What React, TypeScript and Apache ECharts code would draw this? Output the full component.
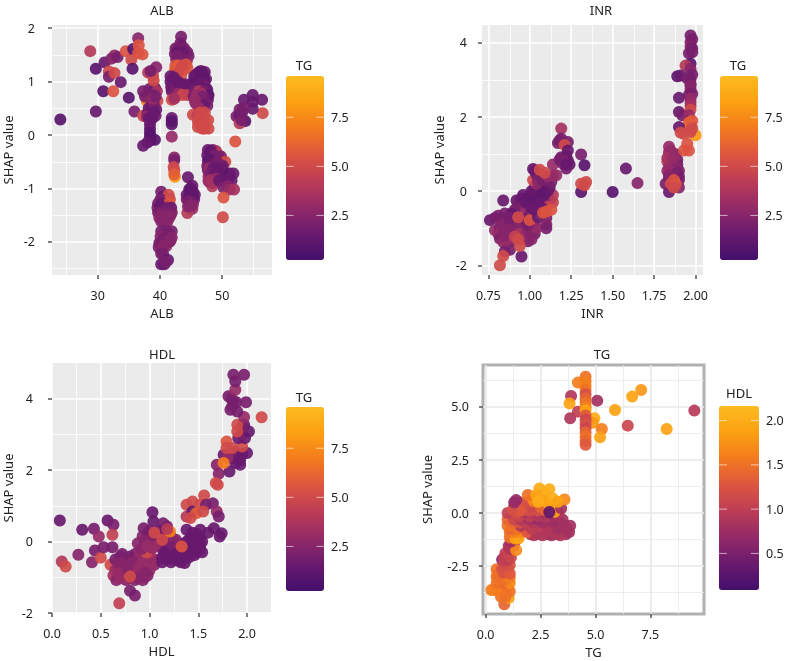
import React, { useEffect, useRef } from "react";
import * as echarts from "echarts";

const palette = ["#420f6c", "#6a1a6e", "#932a68", "#bc3c56", "#dd5540", "#f37a1e", "#fca012", "#fdbb20"];

const albPoints = [
  [24.0,0.29,1.0],[28.8,1.57,4.0],[29.7,1.24,1.0],[29.7,0.44,1.5],[30.9,0.82,1.0],[32.5,0.82,5.5],[31.1,1.36,1.5],[31.8,1.19,5],[31.8,1.09,2],[32.7,1.16,5],[32.7,1.49,3],[32.2,1.43,2.5],[33.2,1.46,2],[33.7,0.99,1.5],[34.5,1.57,5.5],[35.0,0.70,1],[35.4,1.41,5],[35.6,1.24,1],[35.9,0.44,2],[35.7,1.61,1],[36.5,1.81,2.5],[36.6,1.68,5.5],[36.5,1.53,5.5],[37.2,1.51,5.5],
  [37.9,0.64,7],[38.2,0.62,7.5],[37.3,0.82,2],[37.6,0.72,2],[38.3,0.86,2],[39.2,0.88,1.5],[39.5,0.82,3.5],[38.8,0.75,2],[37.3,0.36,5],[39.6,0.64,5],[38.2,0.5,1.5],[38.9,0.5,1.5],[39.4,0.48,1.5],[38.0,0.4,1.5],[38.6,0.38,1],[39.3,0.36,2],[38.4,0.45,2],[38.8,0.42,1.5],[37.9,0.34,3],
  [38.6,0.55,1.5],[39,0.6,2],[38.9,0.68,3],[39.3,0.72,2],[39.1,0.42,1.5],[38.2,0.32,1.5],[38.8,0.32,1.5],
  [38.4,0.2,1.5],[38.4,0.12,1.5],[38.4,0.04,1],[38.4,-0.03,1],[38.5,-0.1,1],[39.2,-0.09,1],[38.0,-0.14,1.5],[37.3,-0.2,1.5],[38.1,1.17,4],[39.4,1.27,2.5],[38.9,1.11,4.5],[39.0,1.02,5],[38.5,1.2,2],
  [42.4,1.22,6.5],[43.4,1.84,2],[43.3,1.72,2],[43.5,1.66,1.5],[42.5,1.62,2],[43.0,1.62,2],[43.9,1.62,2],[44.4,1.55,2],[42.4,1.52,2],[43.2,1.5,1.5],[44.0,1.5,2.5],[44.6,1.48,2],[42.6,1.42,2.5],[43.5,1.4,2.5],[44.3,1.38,3],[42.8,1.55,1.5],[43.6,1.55,1.5],[43.2,1.42,2],[44,1.42,2],[42.8,1.48,2],[42.5,1.3,5.5],[43.0,1.3,6],[44.2,1.32,5.5],[43.1,1.22,5.5],[43.8,1.22,5.5],[44.4,1.26,5.5],[43.4,1.12,5.5],[42.8,1.15,5],[43.6,1.3,5],
  [41.7,1.1,1.5],[42.2,1.08,1.5],[41.7,1.0,1.5],[42.3,0.98,1.5],[41.8,0.9,1.5],[42.3,0.9,2],[42.9,0.92,1.5],[43.4,0.92,1.5],[44.2,0.92,2],[44.6,0.9,1.5],[41.9,0.82,1.5],[42.6,0.85,2],[43.4,0.85,2],[44.3,0.82,1.5],[42.6,1.02,1.5],[43.1,0.98,1.5],[43.8,0.92,1.5],[43.9,0.82,2],[43.1,0.86,1.5],[42.2,0.78,2],[44.1,0.95,1.5],[41.9,0.66,5],[42.5,0.72,2.5],[43.0,0.78,3],[43.6,0.75,5],[44.4,0.75,4.5],[42.3,0.68,3.5],
  [41.9,0.32,1.5],[41.9,0.26,1],[41.9,0.2,1],[41.9,-0.03,3],[42.4,-0.78,8],[42.3,-0.42,2.5],[42.3,-0.47,2],[42.2,-0.6,5],[42.3,-0.66,5],[42.3,-0.74,6],
  [45.5,1.1,1.5],[46,1.15,1.5],[46.6,1.2,1.5],[47.2,1.18,1.5],[45.4,1.0,1.5],[46,1.05,1.5],[46.8,1.08,1.5],[47.4,1.05,1.5],[45.8,1.12,1.5],[46.3,1.18,1.2],[46.9,1.15,1.2],[45.7,0.98,1.2],[46.4,1.0,1.2],[47.1,1.02,1.2],[45.5,0.9,1.5],[46.2,0.95,1.5],[47,0.95,1.5],[47.3,0.9,2],[45.8,0.88,1.5],[46.6,0.88,1.5],[47.6,0.85,1.2],[45.6,0.82,2],[46.3,0.82,4],[47.2,0.82,2],[47.8,0.75,1],[47.7,0.72,1.2],[45.4,0.72,2],[46.0,0.7,5],[46.6,0.66,3],[47.3,0.7,2],[47.7,0.66,1.5],[45.7,0.6,2.5],[46.3,0.6,3],[47.2,0.6,2],[47.6,0.55,2],[46.6,0.78,3.5],[45.9,0.75,3],[46.9,0.72,2],[47,0.55,1.5],[46.2,0.52,3],[45.6,0.65,3],
  [47.4,0.22,9.6],[46.4,0.42,5],[47.2,0.42,5],[45.3,0.38,5],[46.0,0.36,4.5],[47.1,0.32,5],[46.1,0.25,5],[46.7,0.2,5.5],[47.75,0.28,5],[46.1,0.15,5],[46.8,0.12,5],[47.8,0.12,5],[46.6,0.32,5],[46.5,0.4,5],[47.0,0.2,5],[47.2,0.12,5],
  [47.7,-0.28,1.5],[48.5,-0.28,2],[49,-0.3,3.5],[47.6,-0.38,1.5],[48.2,-0.38,1.5],[49.3,-0.36,4.5],[49.8,-0.4,2],[47.7,-0.48,1.5],[48.3,-0.46,1.5],[49,-0.46,2],[49.7,-0.48,2],[50.5,-0.5,5],[47.6,-0.58,2],[48.2,-0.56,5],[48.9,-0.58,2],[49.5,-0.56,1.5],[50.1,-0.58,1.5],[47.7,-0.66,2],[48.4,-0.68,1.5],[49,-0.68,1.5],[49.7,-0.68,2.5],[50.4,-0.7,5],[47.8,-0.78,3],[48.5,-0.78,2],[49.4,-0.76,1.5],[50,-0.78,1.5],[48,-0.88,3],[48.7,-0.86,3],[48.4,-0.96,4],[47.8,-0.86,3],
  [48.2,-0.3,1.2],[48.8,-0.38,2],[47.9,-0.45,1.2],[48.6,-0.52,1.5],[49.3,-0.52,2],[48,-0.62,3],[48.6,-0.62,1.5],[49.3,-0.62,1.5],[50,-0.65,1.5],[48.1,-0.72,2],[48.8,-0.72,1.5],[49.4,-0.7,1.5],[48.2,-0.84,3.5],[49,-0.82,3],[48.5,-0.9,3.5],[49.5,-0.85,1.5],
  [51.2,-0.72,1],[51.8,-0.72,1.5],[51,-0.82,1.5],[51.5,-0.85,1.5],[50.2,-0.98,2],[50.9,-0.96,2.5],[51.2,-1.02,3],[51.9,-1.02,3.5],[50.2,-1.17,5.5],[50.1,-1.54,5],[52.1,-0.12,5.5],
  [54.9,0.75,1.5],[56.4,0.66,1.5],[56.5,0.41,5],[54.9,0.49,1.5],[54.9,0.62,1.5],[53.5,0.66,1.5],[53.4,0.5,2],[52.8,0.48,2],[52.3,0.35,2],[52.8,0.36,1.5],[53.2,0.42,2],[53.7,0.26,1],[52.8,0.22,4],[53.1,0.28,2],
  [44.5,-0.79,1.5],[45.2,-0.95,1.5],[44.7,-1.02,1.5],[45.3,-1.05,1.5],[44.3,-1.12,1.5],[45,-1.12,1],[45.6,-1.12,1.5],[44.3,-1.2,2],[45,-1.2,1.5],[45.5,-1.2,2],[44.7,-1.28,2.5],[45.3,-1.3,3],[44.8,-1.36,3],[45.2,-1.38,3],[44.4,-1.46,4],[44.9,-1.0,1.2],[44.9,-1.08,1.2],[44.7,-1.16,1.2],[45.3,-1.16,1.2],[44.6,-1.24,2],[45.1,-1.26,2],[44.5,-1.34,2.5],[45,-1.32,2.5],
  [40.2,-1.06,2],[40.5,-1.15,1.5],[41.4,-1.12,5],[40.1,-1.2,2],[41.6,-1.2,5],[39.7,-1.28,2],[40.5,-1.28,1.5],[41.5,-1.27,5.5],[39.6,-1.36,2],[40.2,-1.36,2],[41,-1.36,2.5],[41.8,-1.36,1.5],[40.0,-1.32,1.5],[39.7,-1.45,2],[40.4,-1.45,2.5],[41.1,-1.45,3],[41.9,-1.45,2],[40.8,-1.42,2],[41.4,-1.42,2],[39.9,-1.55,2.5],[40.6,-1.55,3],[41.5,-1.55,3],[40.2,-1.5,2.5],[41,-1.5,2.5],[41.7,-1.5,2.5],[40.2,-1.62,2.5],[41.2,-1.62,2.5],[40.7,-1.62,2.5],[40.2,-1.8,2],[41,-1.8,2],[41.9,-1.8,2],[40.6,-1.85,2],[41.5,-1.85,2],[40.1,-1.9,2.5],[41.1,-1.93,2],[41.9,-1.92,2.5],[40.6,-1.95,2],[39.9,-2.02,2],[40.8,-2,4],[41.5,-2,2],[40.3,-2.0,2],[41.2,-2.0,2],[39.8,-2.1,2],[40.3,-2.14,2.5],[41,-2.08,2.5],[40.5,-2.08,2.5],[41.7,-1.98,2.5],[40.5,-2.22,2],[40.2,-2.22,2],[40.2,-2.42,1.5],[40.7,-2.42,1.5],[41.3,-2.34,1.5],[40.9,-2.38,2],
];

const inrPoints = [
  [0.76,-0.78,1.5],[0.84,-0.25,1.5],[0.81,-0.66,2],[0.85,-0.6,2],[0.79,-0.72,2],[0.83,-0.74,2],[0.92,-0.25,1.5],[0.93,-0.35,2],[0.96,-0.1,1.5],[0.99,-0.2,1.5],[0.95,-0.5,3],[0.91,-0.5,2],[0.98,-0.4,3],[0.9,-0.75,1.5],[0.89,-0.6,1.5],[0.87,-0.7,2],[0.97,-0.3,1.5],[0.95,-0.2,1.5],
  [0.79,-1.05,3],[0.82,-1,2],[0.87,-0.95,2],[0.92,-0.95,2],[0.97,-0.95,2.5],[1.03,-0.9,2.5],[0.81,-1.15,3],[0.85,-1.1,2],[0.9,-1.1,2.5],[0.96,-1.1,3],[1.02,-1.05,2.5],[0.82,-1.28,2],[0.86,-1.25,2.5],[0.97,-1.2,2.5],[1.0,-1.22,2],[1.03,-1.15,2],[0.84,-1.37,3],[0.89,-1.35,2.5],[0.99,-1.35,2],[0.85,-1.62,2],[0.88,-1.58,2],[0.95,-1.76,1.5],
  [0.83,-0.9,2.5],[0.88,-0.85,2],[0.94,-0.85,2.5],[1,-0.65,2],[0.97,-0.75,2],[0.89,-1.22,2.5],[0.86,-1.33,3],[0.94,-1.15,3.5],[0.99,-1.05,2.5],[1.02,-0.95,2.5],[0.84,-1.2,2.5],[0.95,-1.3,3],[1.01,-1.3,2.5],[1.04,-1.0,3],[0.87,-1.02,2.5],[0.99,-0.9,2],
  [0.93,-0.7,5],[0.91,-1.22,4.5],[0.93,-1.3,5],[0.94,-1.48,5],[0.84,-1.75,5],[0.82,-2,5],[1.0,-0.78,5.5],
  [1.0,-0.3,1.5],[1.03,-0.5,1.5],[1.02,-0.3,1.5],[1.05,-0.35,1.5],[1.08,-0.3,1.5],[1.12,-0.25,4],[1.14,-0.3,4.5],[1.03,-0.15,1.5],[1.07,-0.15,1.5],[1.11,-0.1,2],[1.14,-0.1,4],[1.04,0,1.5],[1.08,0,1.5],[1.11,0.02,1.5],[1.03,0.1,1.5],[1.06,0.1,1.5],[1.09,0.15,2],[1.05,-0.7,1.5],[1.07,-0.45,1.5],[1.01,-0.45,1.5],[1.05,-0.05,1.2],[1.09,-0.08,1.2],[1.12,0.1,1.5],[1.07,0.2,1.5],[1.1,0.25,1.5],[1.13,0.25,2],[1.05,0.38,2.5],[1.09,0.38,3],[1.06,0.02,1.2],[1.02,-0.05,1.2],[1.0,-0.15,1.2],[1.01,0.0,1.5],[1.04,0.2,3],
  [1.02,0.3,5],[1.05,0.25,2.5],[1.08,0.3,2],[1.04,0.45,2],[1.07,0.45,2],[1.11,0.4,3],[1.14,0.43,3],[1.03,0.55,2],[1.02,0.6,1.5],[1.06,0.58,5],[1.09,0.5,5],[1.14,0.72,3],[1.16,0.43,3],[1.1,-0.72,2],[1.1,-0.9,2.5],[1.1,-1,2],[1.1,-0.55,5.5],[1.13,-0.5,5.5],[1.08,-0.58,5.5],
  [1.19,1.69,3.5],[1.18,1.37,2],[1.17,1.3,2],[1.19,1.42,2],[1.23,1.33,2],[1.2,1.3,2],[1.21,1.25,5],[1.23,1.1,1.5],[1.19,0.92,2],[1.18,0.85,2],[1.23,0.83,1.5],[1.24,0.72,1.5],[1.22,0.61,2],[1.2,0.75,2],[1.22,0.95,1.5],[1.2,0.85,2],[1.22,0.72,1.5],[1.31,0.99,2],[1.33,0.7,1],[1.31,-0.02,1],[1.31,0.2,5],[1.34,0.25,5],[1.33,0.16,5],[1.5,-0.02,1],[1.58,0.61,1.5],[1.65,0.22,2.5],
  [1.84,1.2,3],[1.84,1.05,3],[1.85,0.95,3],[1.88,1.0,2],[1.89,0.85,2],[1.83,0.8,4],[1.86,0.8,3],[1.89,0.72,2],[1.84,0.65,3],[1.87,0.6,3],[1.9,0.55,2.5],[1.84,0.5,2.5],[1.87,0.45,2],[1.9,0.4,2],[1.84,0.35,2.5],[1.85,1.1,3],[1.83,0.9,3.5],[1.87,0.9,3],[1.87,0.7,3],[1.89,0.62,2.5],[1.83,0.55,3],[1.87,0.52,3],[1.89,0.5,2],[1.84,0.42,2.5],[1.9,0.3,2],[1.86,0.38,2.5],[1.82,0.2,2],[1.9,0.1,2.5],[1.84,-0.02,1.5],[1.87,0.3,5.5],[1.85,0.2,5],[1.88,0.2,5.5],[1.87,0.1,5],
  [2.0,1.51,8],[1.97,4.2,2],[1.97,4.02,2.5],[1.98,4.1,2],[1.97,3.9,2.5],[1.98,3.85,2],[1.98,3.75,2],[1.96,3.72,2],[1.97,3.44,1],[1.94,3.39,4],[1.89,3.1,1],[1.91,3.12,1.5],[1.97,3.3,2.5],[1.98,3.15,2],[1.97,3.03,2],[1.95,3.05,2],[1.97,2.9,2],[1.97,2.85,2.5],[1.97,2.75,2.5],[1.98,2.63,2],[1.96,2.6,2],[1.9,2.52,1.5],[1.97,2.5,3],[1.97,2.4,3],[1.97,2.3,3.5],[1.9,2.14,1.5],[1.92,2.05,2],[1.97,2.2,5],[1.96,2.05,3],[1.98,1.9,5.5],[1.97,1.78,5],[1.96,1.85,6],[1.98,1.7,5],[1.9,1.73,1.5],[1.91,1.58,5],[1.93,1.55,5],[1.97,1.6,5],[1.95,1.28,5.5],[1.93,1.1,5.5],[1.96,1.1,5.5],
];

const hdlPoints = [
  [0.08,0.59,1.5],[0.10,-0.56,4],[0.14,-0.7,5],[0.31,0.33,1.5],[0.27,-0.37,2.5],[0.43,0.36,2],[0.48,0.14,3],[0.57,0.59,1.5],[0.63,0.47,2],[0.62,0.19,4.5],[0.44,-0.25,2],[0.41,-0.58,2.5],[0.5,-0.45,5],[0.6,-0.65,5],[0.53,-0.16,2],[0.62,-0.16,2],
  [0.72,-0.35,2],[0.85,-0.35,2],[0.65,-0.5,2],[0.75,-0.5,2.5],[0.85,-0.5,2],[0.95,-0.5,3],[1.05,-0.5,2.5],[0.68,-0.65,2.5],[0.78,-0.65,2],[0.88,-0.65,3],[0.98,-0.65,3],[1.05,-0.65,2.5],[0.65,-0.8,3],[0.73,-0.8,2],[0.83,-0.8,2.5],[0.93,-0.8,3],[1.0,-0.8,3],[0.63,-0.95,3.5],[0.72,-0.95,3],[0.82,-0.95,3],[0.92,-0.95,2.5],[0.98,-0.95,2.5],[0.66,-1.08,2.5],[0.76,-1.08,2.5],[0.85,-1.08,2.5],[0.93,-1.08,2.5],
  [0.7,-0.42,2],[0.8,-0.42,2],[0.9,-0.42,2.5],[1,-0.42,3],[0.7,-0.58,2.5],[0.82,-0.58,2.5],[0.93,-0.58,3],[1.03,-0.58,3],[0.7,-0.72,2.5],[0.8,-0.72,2.5],[0.9,-0.72,3],[0.98,-0.72,3],[0.68,-0.88,3],[0.78,-0.88,2.5],[0.88,-0.88,3],[0.96,-0.88,2.5],[0.7,-1.02,3],[0.8,-1.02,3],[0.88,-1.02,2.5],[0.95,-1.0,2.5],[0.9,-0.3,3],[1.0,-0.32,3.5],
  [0.8,-1.38,2],[0.85,-1.51,2],[0.69,-1.73,4.5],[0.8,-0.98,5],[0.97,-0.3,5],
  [1.03,0.82,1.5],[1.04,0.56,1.5],[0.94,0.37,2],[1.14,0.51,2],[1.18,0.42,2],[1.0,0.3,2],[1.1,0.3,1.5],[1.2,0.2,2],[0.93,0.15,2.5],[1.02,0.12,2.5],[1.16,0.1,2],[1.27,0.05,2.5],[0.88,-0.05,2.5],[0.98,-0.02,3],[1.08,-0.02,2.5],[1.2,-0.08,2.5],[1.3,-0.05,2.5],[0.92,-0.2,2.5],[1.03,-0.18,3],[1.13,-0.2,2],[1.24,-0.2,2],
  [0.98,0.22,2],[1.06,0.22,2],[1.14,0.2,1.5],[1.23,0.1,2.5],[0.95,0.02,2.5],[1.03,0.05,2.5],[1.1,0.1,2],[1.22,-0.15,2],[1.3,-0.18,2.5],[1.08,-0.12,3],[0.98,-0.12,3],[1.36,-0.15,2],
  [1.13,-0.45,1.5],[1.22,-0.45,1.5],[1.32,-0.45,1.5],[1.4,-0.45,1.5],[1.13,-0.58,1.5],[1.22,-0.58,1.5],[1.32,-0.58,1.5],[1.36,-0.6,1.5],[1.15,-0.3,1.5],[1.28,-0.32,1.5],[1.38,-0.3,1.5],[1.48,-0.3,1.5],[1.54,-0.3,1.5],[1.4,-0.15,1.5],[1.5,-0.15,1.5],[1.38,0,1.5],[1.46,0,1.5],[1.54,0,1.5],[1.42,0.12,1.5],[1.52,0.12,1.5],[1.38,0.33,1.5],[1.52,0.33,1.5],[1.66,0.37,1.5],[1.74,0.23,1.5],[1.72,0.14,1.5],[1.44,0.25,1.5],[1.6,0.25,1.5],
  [1.18,-0.38,1.5],[1.26,-0.38,1.5],[1.36,-0.38,1.5],[1.46,-0.38,1.5],[1.44,-0.22,1.5],[1.52,-0.22,1.5],[1.42,-0.08,1.5],[1.52,-0.08,1.5],[1.46,0.1,1.5],[1.18,-0.5,1.5],[1.28,-0.52,1.5],[1.4,0.0,1.5],[1.5,0.05,1.5],[1.48,0.22,1.5],
  [1.05,0.25,5],[1.13,0.05,5],[1.21,0.28,7],[1.33,-0.14,5.5],[1.18,0.35,4],
  [1.56,1.29,5],[1.44,1.12,5],[1.38,1.03,5],[1.38,0.7,4],[1.44,0.84,1.5],[1.52,1.03,5],[1.48,0.79,6],[1.58,1.03,2],[1.65,1.07,2],[1.69,0.84,3],[1.71,0.7,2],[1.55,0.84,5],[1.42,0.66,5],
  [1.69,2.15,2.5],[1.71,1.9,2.5],[1.68,1.64,5],[1.7,1.59,5],[1.76,2.43,1.5],[1.82,1.96,1.5],[1.85,2.34,1.5],[1.93,2.15,1.5],[2,2.48,1.5],[1.93,2.29,1.5],[1.88,2.5,2],[1.82,2.45,2],[1.95,2.45,1.5],[1.88,2.2,1.5],[1.8,2.35,3],[1.76,2.2,7],[1.79,2.8,5.5],[1.79,2.62,5],[1.85,2.62,5],[1.95,2.66,5],[1.91,2.9,1.5],[1.98,2.9,1.5],[1.95,3.0,2],[2.02,3.08,1.5],[1.97,3.27,1.5],[1.95,3.2,2],[1.9,3.08,5],[1.9,3.27,5],[1.97,3.49,3],[2.15,3.48,5],[1.99,3.9,2],[1.83,3.69,2],[1.9,3.64,2],[1.85,3.8,2],[1.89,3.9,2],[1.84,4,2],[1.81,4.07,2],[1.86,3.94,2],[1.88,4.25,3],[1.88,4.49,2],[1.86,4.67,2],[1.97,4.67,2],
];

const tgPoints = [
  [9.5,4.83,0.95],[8.24,3.96,1.9],[7.08,5.8,1.8],[6.67,5.49,1.9],[6.47,4.12,1.1],[5.89,4.86,1.9],[5.08,5.3,0.8],[4.95,4.47,2],[4.88,4.26,1.8],[5.29,3.96,1.6],[5.21,3.57,1.9],[3.89,5.52,0.9],[3.82,5.17,1.9],[3.85,4.47,0.9],[4.2,4.78,1],[4.2,6.15,1.6],
  [4.55,6.43,1.5],[4.55,6.2,1.6],[4.55,6.0,1.6],[4.55,5.8,1.5],[4.55,5.6,1.2],[4.55,5.4,1.4],[4.55,5.2,1.5],[4.55,5.0,1.6],[4.55,4.85,1.9],[4.55,4.6,1.3],[4.55,4.4,1.1],[4.55,4.2,1.2],[4.55,4.0,1.1],[4.55,3.8,1.4],[4.55,3.6,1.5],[4.55,3.4,1.4],[4.55,3.22,1.3],
  [0.26,-3.63,1.6],[0.4,-3.63,1.6],[0.6,-3.55,1.6],[0.85,-4.3,1.4],[1.05,-4.0,1.9],[0.7,-3.95,1.5],[0.9,-3.75,1.5],[1.1,-3.7,1.5],[0.75,-3.7,1.6],[0.9,-3.95,1.5],[1.0,-3.5,1.5],[0.5,-3.3,1.5],[0.7,-3.3,1.5],[0.9,-3.3,1.4],[1.1,-3.3,1.7],[0.65,-3.15,1.5],[0.85,-3.15,1.5],[0.5,-3,1.5],[0.7,-2.9,1.3],[0.9,-3,1.5],[1.1,-3.05,1.6],[0.55,-2.85,1.5],[0.8,-2.8,1.2],[0.95,-2.75,1.3],[0.5,-2.65,1.5],[0.75,-2.65,1.2],[1,-2.6,1.2],[1.1,-2.85,1.3],[0.85,-2.5,1.2],[1.1,-2.45,1.2],[0.75,-2.2,0.6],[0.85,-2.3,1.1],[1,-2.2,1.0],[0.85,-2.1,1.0],[1.0,-2.05,1.0],[1.15,-2.1,1.1],[0.9,-1.9,1.0],[1.05,-1.9,1.1],[1.05,-1.55,0.8],[1.25,-1.55,0.7],[1.15,-1.55,0.7],[1.1,-1.7,0.9],[1.3,-1.4,0.7],[1.39,-1.75,1.7],[1.15,-1.35,0.8],
  [1.1,-1.15,1.5],[1.35,-1.2,1.9],[1.5,-1.2,1.9],[1.4,-1.05,1.9],[1.5,-1.05,1.9],
  [2.05,-1,0.9],[2.45,-1,0.9],[2.85,-1,0.9],[3.25,-1,0.9],[3.65,-1,0.85],[2.2,-1.05,0.9],[2.6,-1.05,0.9],[3.0,-1.05,0.8],[3.4,-1.05,0.9],
  [1.1,-0.9,1.5],[1.3,-0.9,1.6],[1.6,-0.9,1.7],[1.9,-0.9,1.3],[2.3,-0.9,0.9],[2.7,-0.9,0.9],[3.1,-0.9,0.9],[3.5,-0.9,0.9],[3.8,-0.9,0.8],
  [1.15,-0.75,1.4],[1.45,-0.75,1.5],[1.75,-0.7,1.3],[2.1,-0.75,1.0],[2.5,-0.75,0.9],[2.95,-0.75,0.9],[3.3,-0.75,0.8],[3.7,-0.75,0.8],
  [1.0,-0.6,1.5],[1.2,-0.6,1.5],[1.6,-0.6,0.9],[2,-0.6,1.0],[2.4,-0.6,1.0],[2.8,-0.6,0.9],[3.2,-0.6,0.8],[3.6,-0.6,0.8],[3.85,-0.6,0.8],
  [1.25,-0.45,1.4],[1.55,-0.45,1.2],[1.85,-0.45,1],[2.2,-0.45,0.9],[2.6,-0.45,0.8],[3.05,-0.45,0.8],[3.4,-0.45,0.8],
  [1,-0.3,1.4],[1.3,-0.3,1.1],[1.6,-0.3,0.9],[2,-0.3,0.8],[2.4,-0.3,0.7],[2.8,-0.3,0.8],[3.2,-0.3,0.7],[3.5,-0.3,0.8],
  [1.5,-0.15,1.1],[2.0,-0.15,1.0],[2.4,-0.15,0.9],[2.8,-0.15,0.9],[3.15,-0.15,0.8],
  [1.0,0,1.0],[1.4,0,1.2],[1.8,0,0.9],[2.2,0,0.9],[2.6,0,0.8],[3.0,0,0.6],[3.3,0,0.9],
  [1.25,0.15,1.2],[1.6,0.12,1.3],[2.0,0.12,1.2],[2.4,0.12,1.2],[2.75,0.12,1.4],
  [1.3,0.3,1.2],[1.7,0.3,1.3],[2.1,0.3,1.1],[2.5,0.3,1.4],[2.9,0.3,1.6],
  [1.6,0.5,1.3],[1.3,0.5,0.7],[1.9,0.5,1.2],[2.2,0.55,1.6],[2.8,0.5,1.9],[2.15,0.7,1.7],
  [1.92,0.85,1.5],[1.39,0.61,0.7],[3.14,0.06,1.9],[3.44,0.22,0.8],[2.9,0.05,0.3],[3.59,0.64,1.7],[2.45,1.16,2],[2.9,1.12,2],[2.68,0.93,2],[2.3,0.85,1.9],[2.6,0.62,1.9],[3.06,0.69,2],[2.4,0.53,2],[3.29,0.53,1.9],
];

const albXTicks = [30, 40, 50];
const albYTicks = [-2, -1, 0, 1, 2];
const inrXTicks = [0.75, 1, 1.25, 1.5, 1.75, 2];
const inrYTicks = [-2, 0, 2, 4];
const hdlXTicks = [0, 0.5, 1, 1.5, 2];
const hdlYTicks = [-2, 0, 2, 4];
const tgXTicks = [0, 2.5, 5, 7.5];
const tgYTicks = [-2.5, 0, 2.5, 5];
const tgScaleTicks = [2.5, 5, 7.5];
const hdlScaleTicks = [0.5, 1, 1.5, 2];

const FONT = "Noto Sans";
const TEXT = "#222222";

const panels = [
  {
    title: "ALB", name: "ALB", data: albPoints, rect: [52, 25, 220, 250],
    xr: [22.66, 58], yr: [-2.62, 2.06], xt: albXTicks, yt: albYTicks, xd: 0, yd: 0,
    xm: [25, 35, 45, 55], ym: [-2.5, -1.5, -0.5, 0.5, 1.5],
    legend: "TG", vr: [0.23, 9.6], vt: tgScaleTicks, bar: [286, 76, 38, 184], lt: [304, 65], tp: [157, 7], ng: [31, 38], lm: 17,
  },
  {
    title: "INR", name: "INR", data: inrPoints, rect: [482, 25, 221, 250],
    xr: [0.712, 2.045], yr: [-2.26, 4.485], xt: inrXTicks, yt: inrYTicks, xd: 2, yd: 0,
    xm: [0.875, 1.125, 1.375, 1.625, 1.875], ym: [-1, 1, 3],
    legend: "TG", vr: [0.23, 9.6], vt: tgScaleTicks, bar: [720, 76, 38, 184], lt: [738, 65], tp: [596, 7], ng: [31, 37], lm: 15,
  },
  {
    title: "HDL", name: "HDL", data: hdlPoints, rect: [52, 363, 219, 250],
    xr: [0, 2.246], yr: [-2, 5], xt: hdlXTicks, yt: hdlYTicks, xd: 1, yd: 0,
    xm: [0.25, 0.75, 1.25, 1.75], ym: [-1, 1, 3],
    legend: "TG", vr: [0.23, 9.6], vt: tgScaleTicks, bar: [286, 407, 38, 184], lt: [304, 397], tp: [157, 351], ng: [31, 38], lm: 19,
  },
  {
    title: "TG", name: "TG", data: tgPoints, rect: [483, 365, 221, 249], boxed: true,
    xr: [-0.12, 9.94], yr: [-4.76, 6.98], xt: tgXTicks, yt: tgYTicks, xd: 1, yd: 1,
    xm: [1.25, 3.75, 6.25, 8.75], ym: [-3.75, -1.25, 1.25, 3.75, 6.25],
    legend: "HDL", vr: [0.087, 2.165], vt: hdlScaleTicks, bar: [719, 406, 40, 184], lt: [739, 393], tp: [597, 351], ng: [31, 50], lm: 14,
  },
];

function buildOption() {
  const grid: any[] = [], xAxis: any[] = [], yAxis: any[] = [], series: any[] = [], visualMap: any[] = [], title: any[] = [], graphic: any[] = [];
  panels.forEach((p: any, i) => {
    const gridColor = p.boxed ? "#e8e8e8" : "#ffffff";
    grid.push({
      left: p.rect[0], top: p.rect[1], width: p.rect[2], height: p.rect[3], show: true,
      backgroundColor: p.boxed ? "#ffffff" : "#ebebeb",
      borderColor: p.boxed ? "#b0b0b0" : "transparent", borderWidth: p.boxed ? 3 : 0, z: 0,
    });
    const axis = (range: number[], ticks: number[], d: number, name: string, gap: number, margin: number) => ({
      type: "value", gridIndex: i, min: range[0], max: range[1], name, nameLocation: "middle", nameGap: gap, nameMoveOverlap: false,
      nameTextStyle: { color: TEXT, fontFamily: FONT, fontSize: 13 },
      axisLine: { show: false, onZero: false },
      axisTick: { show: true, length: 4, customValues: ticks, lineStyle: { color: "#555", width: 1.5 } },
      axisLabel: { show: true, customValues: ticks, color: TEXT, fontFamily: FONT, fontSize: 12.5, margin, formatter: (v: number) => v.toFixed(d) },
      splitLine: { show: true, lineStyle: { color: gridColor, width: 1.6 } },
    });
    xAxis.push(axis(p.xr, p.xt, p.xd, p.name, p.ng[0], 14));
    yAxis.push(axis(p.yr, p.yt, p.yd, "SHAP value", p.ng[1], p.lm));
    series.push({
      type: "scatter", xAxisIndex: i, yAxisIndex: i, data: [], z: 1, silent: true,
      markLine: {
        silent: true, symbol: "none", z: 1, animation: false, label: { show: false },
        lineStyle: { color: gridColor, width: 0.8, type: "solid" },
        data: [...p.xm.map((v: number) => ({ xAxis: v })), ...p.ym.map((v: number) => ({ yAxis: v }))],
      },
    });
    series.push({
      type: "scatter", xAxisIndex: i, yAxisIndex: i, data: p.data, symbolSize: 12, z: 3, silent: true,
      itemStyle: { opacity: 0.92 },
    });
    visualMap.push({
      type: "continuous", seriesIndex: i * 2 + 1, dimension: 2, min: p.vr[0], max: p.vr[1], show: true, calculable: false, hoverLink: false,
      left: p.bar[0], top: p.bar[1], itemWidth: p.bar[2], itemHeight: p.bar[3], padding: 0, orient: "vertical",
      inRange: { color: palette }, text: null, textStyle: { fontSize: 0 },
    });
    title.push({
      text: p.title, left: p.tp[0], top: p.tp[1] - 9, textAlign: "center",
      textStyle: { color: TEXT, fontFamily: FONT, fontSize: 13, fontWeight: "normal" },
    });
    graphic.push({
      type: "text", x: p.lt[0], y: p.lt[1], z: 20,
      style: { text: p.legend, fill: TEXT, font: `13px "${FONT}"`, align: "center", verticalAlign: "middle" },
    });
    p.vt.forEach((v: number) => {
      const y = p.bar[1] + ((p.vr[1] - v) / (p.vr[1] - p.vr[0])) * p.bar[3];
      const seg = p.bar[2] / 5;
      graphic.push({ type: "line", z: 20, shape: { x1: p.bar[0], y1: y, x2: p.bar[0] + seg, y2: y }, style: { stroke: "rgba(255,255,255,0.6)", lineWidth: 1 } });
      graphic.push({ type: "line", z: 20, shape: { x1: p.bar[0] + p.bar[2] - seg, y1: y, x2: p.bar[0] + p.bar[2], y2: y }, style: { stroke: "rgba(255,255,255,0.6)", lineWidth: 1 } });
      graphic.push({
        type: "text", z: 20, x: p.bar[0] + p.bar[2] + 7, y,
        style: { text: v.toFixed(1), fill: TEXT, font: `12.5px "${FONT}"`, align: "left", verticalAlign: "middle" },
      });
    });
  });
  return { animation: false, backgroundColor: "#ffffff", grid, xAxis, yAxis, series, visualMap, title, graphic };
}

export default function App() {
  const ref = useRef<HTMLDivElement>(null);
  useEffect(() => {
    const chart = echarts.init(ref.current!, undefined, { renderer: "svg" });
    chart.setOption(buildOption() as any);
    return () => chart.dispose();
  }, []);
  return <div ref={ref} style={{ position: "absolute", left: 0, top: 0, width: 792, height: 661, filter: "blur(0.45px)" }} />;
}
